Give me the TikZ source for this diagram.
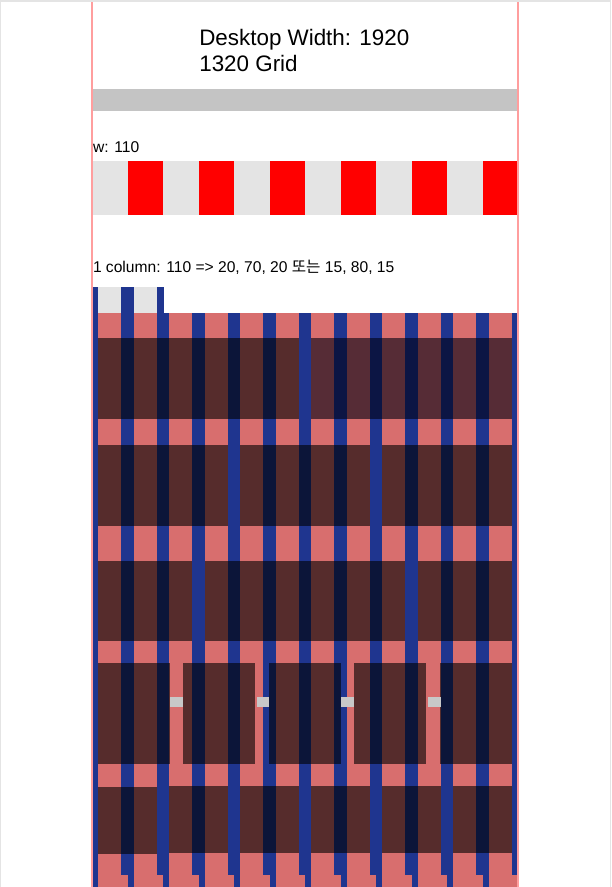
\documentclass[tikz,border=0pt]{standalone}
\usepackage{fontspec}
\setmainfont{Liberation Sans}
\newfontfamily\krfont{Noto Sans CJK KR}
\definecolor{pinkc}{RGB}{216,110,110}
\definecolor{bluec}{RGB}{31,53,143}
\definecolor{framec}{RGB}{255,158,158}
\definecolor{barc}{RGB}{196,196,196}
\definecolor{lgray}{RGB}{228,228,228}
\definecolor{edgec}{RGB}{228,228,228}
\definecolor{sqc}{RGB}{200,200,200}
\definecolor{purpc}{RGB}{0,0,18}
\tikzset{
  shade60/.style={fill=black,fill opacity=0.6},
  shadep/.style={fill=purpc,fill opacity=0.6},
  txt/.style={anchor=base west,inner sep=0pt,outer sep=0pt},
  framel/.style={draw=framec,line width=1.3pt},
}
\begin{document}
\begin{tikzpicture}[x=1pt,y=-1pt]
\useasboundingbox (0,0) rectangle (611,887);
\fill[white] (0,0) rectangle (611,887);
% window edge
\fill[edgec] (0,0) rectangle (611,2.2);
\fill[edgec] (0,0) rectangle (1,887);
\fill[edgec] (610,0) rectangle (611,887);

% title and labels
\node[txt,font=\fontsize{22.4}{26}\selectfont] (title) at (199.3,45.7) {Desktop Width: 1920};
\node[txt,font=\fontsize{22.4}{26}\selectfont] (title2) at (199.3,71.7) {1320 Grid};
\fill[barc] (92,89) rectangle (518,110.5);
\node[txt,font=\fontsize{15.6}{18}\selectfont] (wlabel) at (93,152.3) {w: 110};

% 12-column stripe
\fill[lgray] (92,161.3) rectangle (518,214.7);
\foreach \k in {0,...,5}{
  \fill[red] ({127.5+71*\k},161.3) rectangle ({163+71*\k},214.7);
}

\node[txt,font=\fontsize{15.6}{18}\selectfont] (collabel) at (93,272.7) {1 column: 110 =\kern0pt> 20, 70, 20 {\krfont 또는} 15, 80, 15};

% small 2-column sample
\fill[bluec] (92,287) rectangle (163.5,313.5);
\foreach \k in {0,1}{
  \fill[lgray] ({98.45+35.5*\k},287) rectangle ({121.05+35.5*\k},313.3);
}

% grid base
\fill[bluec] (92,313.3) rectangle (518,887);
\foreach \k in {0,...,11}{
  \fill[pinkc] ({98.45+35.5*\k},313.3) rectangle ({121.05+35.5*\k},887);
  \fill[pinkc] ({98.45+35.5*\k},875) rectangle ({127.5+35.5*\k},887);
}

% row A
\fill[shade60] (98.45,338.3) rectangle (298.6,418.5);
\fill[shadep] (311.45,338.3) rectangle (511.6,418.5);
% row B
\foreach \k in {0,4,8}{
  \fill[shade60] ({98.45+35.5*\k},445) rectangle ({227.55+35.5*\k},526);
}
% row C
\fill[shade60] (98.45,561) rectangle (192.05,641);
\fill[shade60] (204.95,561) rectangle (405.05,641);
\fill[shade60] (417.95,561) rectangle (511.6,641);
% row D cards
\foreach \x in {97.7,183.2,268.7,354.2,439.7}{
  \fill[shade60] (\x,663.3) rectangle ({\x+72},764);
}
\fill[sqc] (170,696.7) rectangle (182.7,707);
\fill[sqc] (256.7,696.7) rectangle (269.3,707);
\fill[sqc] (341,696.7) rectangle (353.7,707);
\fill[sqc] (428,696.7) rectangle (440.7,707);
% row E
\fill[shade60] (98.45,787.3) rectangle (156.55,854);
\foreach \k in {2,4,6,8,10}{
  \fill[shade60] ({98.45+35.5*\k},786) rectangle ({156.55+35.5*\k},852.7);
}

% frame lines
\coordinate (fl1) at (92,2.2);
\coordinate (fl2) at (92,887);
\coordinate (fr1) at (518,2.2);
\coordinate (fr2) at (518,887);
\draw[framel] (fl1) -- (fl2);
\draw[framel] (fr1) -- (fr2);
\end{tikzpicture}
\end{document}
